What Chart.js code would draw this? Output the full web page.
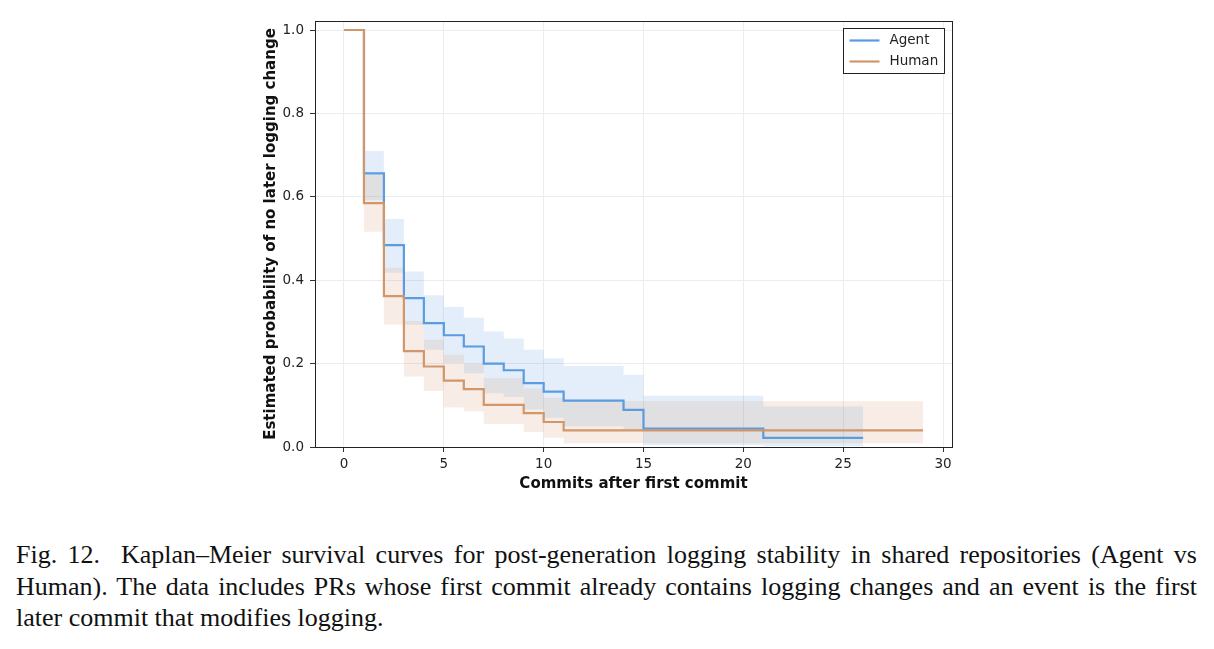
<!DOCTYPE html>
<html>
<head>
<meta charset="utf-8">
<script src="https://cdn.jsdelivr.net/npm/chart.js@4.4.1/dist/chart.umd.min.js"></script>
<style>
  body { margin: 0; background: #fff; }
  #wrap { position: absolute; left: 0; top: 0; width: 1214px; height: 497px; }
  .cap { position: absolute; left: 16px; width: 1181px; font-family: 'Liberation Serif', serif; font-size: 26px; line-height: 31.5px; color: #111; white-space: nowrap; }
  .just { text-align: justify; text-align-last: justify; }
</style>
</head>
<body>
<div id="wrap"><canvas id="chart1" width="1214" height="497"></canvas></div>
<div class="cap just" style="top:539px">Fig. 12.&nbsp; Kaplan–Meier survival curves for post-generation logging stability in shared repositories (Agent vs</div>
<div class="cap just" style="top:570.5px">Human). The data includes PRs whose first commit already contains logging changes and an event is the first</div>
<div class="cap" style="top:602px">later commit that modifies logging.</div>
<script>
// Kaplan-Meier steps
const agentT = [0, 1, 2, 3, 4, 5, 6, 7, 8, 9, 10, 11, 14, 15, 21, 26];
const agentS = [1.0, 0.656, 0.484, 0.357, 0.297, 0.268, 0.241, 0.200, 0.184, 0.153, 0.133, 0.111, 0.089, 0.044, 0.022, 0.022];
const agentUpper = [1.0, 0.710, 0.547, 0.421, 0.364, 0.336, 0.310, 0.277, 0.260, 0.233, 0.213, 0.194, 0.173, 0.123, 0.097, 0.097];
const agentLower = [1.0, 0.592, 0.418, 0.293, 0.233, 0.202, 0.177, 0.129, 0.120, 0.090, 0.070, 0.050, 0.040, 0.004, 0.002, 0.002];

const humanT = [0, 1, 2, 3, 4, 5, 6, 7, 9, 10, 11, 29];
const humanS = [1.0, 0.585, 0.362, 0.230, 0.193, 0.159, 0.139, 0.101, 0.081, 0.060, 0.040, 0.040];
const humanUpper = [1.0, 0.652, 0.430, 0.302, 0.257, 0.221, 0.199, 0.165, 0.140, 0.118, 0.110, 0.110];
const humanLower = [1.0, 0.516, 0.293, 0.169, 0.134, 0.095, 0.086, 0.055, 0.036, 0.022, 0.009, 0.009];

const xTicks = [0, 5, 10, 15, 20, 25, 30];
const yTicks = [0.0, 0.2, 0.4, 0.6, 0.8, 1.0];

const agentColor = '#5b9be0';
const humanColor = '#d2966b';

function pts(t, v) {
    return t.map((x, i) => ({x: x, y: v[i]}));
}

function band(t, v, color, fill, order) {
    return {
        data: pts(t, v),
        stepped: true,
        borderWidth: 0,
        pointRadius: 0,
        backgroundColor: color,
        fill: fill,
        order: order,
        isBand: true
    };
}

const frameAndLegend = {
    id: 'frameAndLegend',
    afterDraw(chart) {
        const ctx = chart.ctx;
        const a = chart.chartArea;
        ctx.save();
        ctx.strokeStyle = '#222';
        ctx.lineWidth = 1;
        ctx.strokeRect(Math.round(a.left) + 0.5, Math.round(a.top) + 0.5, Math.round(a.right - a.left), Math.round(a.bottom - a.top));

        // legend box, upper right
        const bx = a.right - 108.5, by = a.top + 7.5, bw = 101, bh = 45;
        ctx.fillStyle = '#fff';
        ctx.fillRect(bx, by, bw, bh);
        ctx.strokeRect(bx, by, bw, bh);
        const items = chart.data.datasets.filter(d => !d.isBand);
        ctx.font = '13.5px "DejaVu Sans"';
        ctx.textBaseline = 'middle';
        items.forEach((d, i) => {
            const y = by + 12 + i * 21;
            ctx.strokeStyle = d.borderColor;
            ctx.lineWidth = 2.2;
            ctx.beginPath();
            ctx.moveTo(bx + 6, y);
            ctx.lineTo(bx + 36, y);
            ctx.stroke();
            ctx.fillStyle = '#222';
            ctx.fillText(d.label, bx + 46, y);
        });
        ctx.restore();
    }
};

new Chart(document.getElementById('chart1'), {
    type: 'line',
    data: {
        datasets: [
            {
                label: 'Agent',
                data: pts(agentT, agentS),
                stepped: true,
                borderColor: agentColor,
                borderWidth: 2.2,
                pointRadius: 0,
                fill: false,
                order: 1
            },
            {
                label: 'Human',
                data: pts(humanT, humanS),
                stepped: true,
                borderColor: humanColor,
                borderWidth: 2.2,
                pointRadius: 0,
                fill: false,
                order: 0
            },
            band(agentT, agentUpper, 'rgba(91,155,224,0.17)', '+1', 5),
            band(agentT, agentLower, 'rgba(0,0,0,0)', false, 5),
            band(humanT, humanUpper, 'rgba(210,150,107,0.17)', '+1', 3),
            band(humanT, humanLower, 'rgba(0,0,0,0)', false, 3)
        ]
    },
    options: {
        responsive: false,
        animation: false,
        layout: {padding: {left: 258, right: 262, top: 21, bottom: 0}},
        plugins: {
            legend: {display: false},
            tooltip: {enabled: false}
        },
        scales: {
            x: {
                type: 'linear',
                min: -1.452,
                max: 30.45,
                afterBuildTicks: s => { s.ticks = xTicks.map(v => ({value: v})); },
                afterFit: s => { s.height = 50; },
                grid: {color: '#ececec', tickColor: '#333', tickLength: 5},
                border: {display: false},
                ticks: {padding: 4, color: '#222', font: {family: 'DejaVu Sans', size: 13.5}, maxRotation: 0},
                title: {display: true, text: 'Commits after first commit', color: '#111',
                        font: {family: 'DejaVu Sans', size: 15, weight: 'bold'}}
            },
            y: {
                min: 0,
                max: 1.0216,
                afterBuildTicks: s => { s.ticks = yTicks.map(v => ({value: v})); },
                afterFit: s => { s.width = 57; },
                grid: {color: '#ececec', tickColor: '#333', tickLength: 5},
                border: {display: false},
                ticks: {padding: 6, color: '#222', font: {family: 'DejaVu Sans', size: 13.5},
                        callback: v => v.toFixed(1)},
                title: {display: true, text: 'Estimated probability of no later logging change', color: '#111',
                        font: {family: 'DejaVu Sans', size: 15, weight: 'bold'}}
            }
        }
    },
    plugins: [frameAndLegend]
});
</script>
</body>
</html>
